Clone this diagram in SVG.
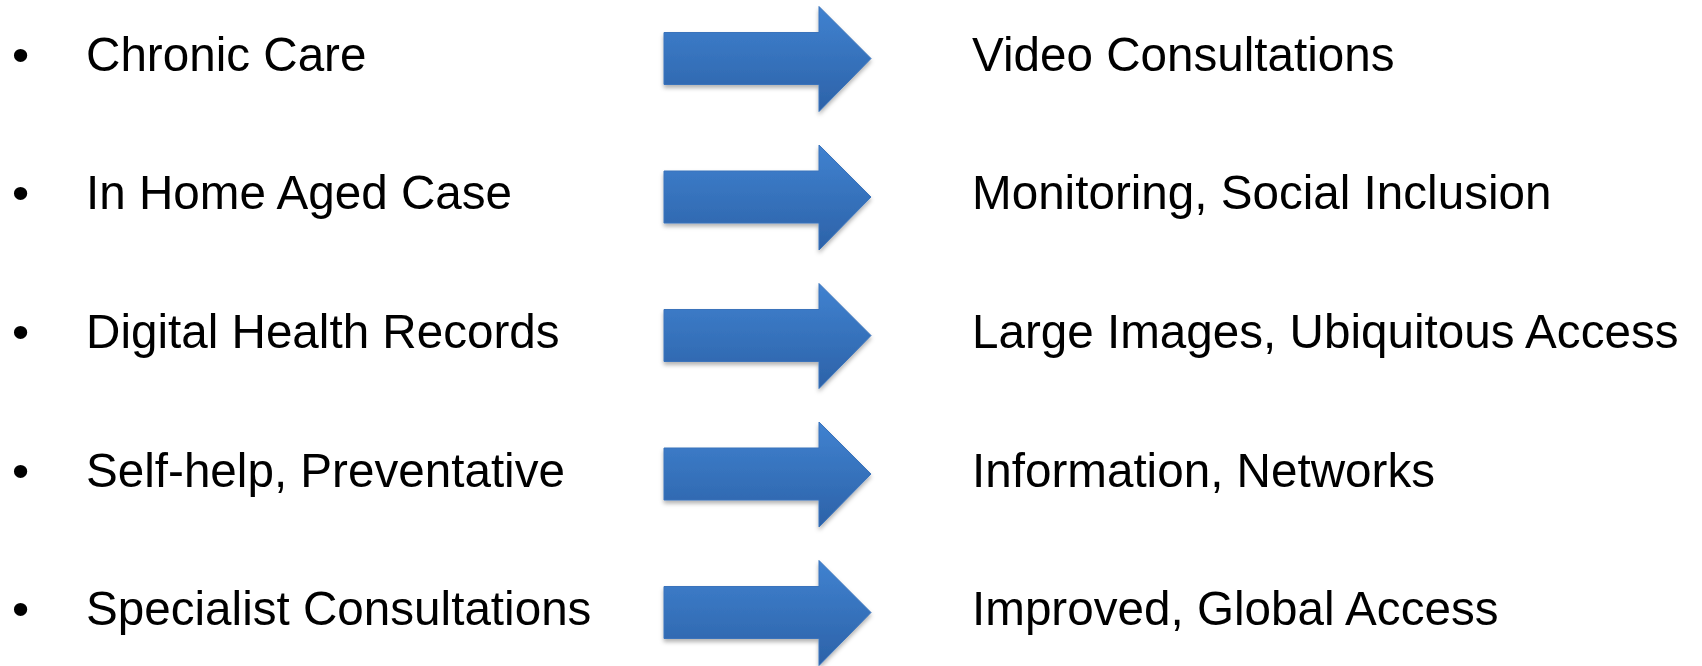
<svg xmlns="http://www.w3.org/2000/svg" width="1702" height="666" viewBox="0 0 1702 666">
  <defs>
    <linearGradient id="arrowGrad" x1="0" y1="0" x2="0" y2="1">
      <stop offset="0" stop-color="#4082d0"/>
      <stop offset="1" stop-color="#2c62a8"/>
    </linearGradient>
    <filter id="shadow" x="-10%" y="-10%" width="125%" height="130%">
      <feDropShadow dx="0" dy="3" stdDeviation="2" flood-color="#000" flood-opacity="0.3"/>
    </filter>
    <path id="arrowShape" d="M664,-26 L819,-26 L819,-52 L871,0 L819,53 L819,26 L664,26 Z"/>
  </defs>
  <style>
    .t { font-family: "Liberation Sans", Arial, sans-serif; font-size: 49px; fill: #000; }
    .arrow { fill: url(#arrowGrad); stroke: #3a73bb; stroke-width: 1; filter: url(#shadow); }
  </style>
  <rect width="1702" height="666" fill="#ffffff"/>

  <g id="row1">
    <text class="t" x="12" y="70.5">•</text>
    <text class="t" transform="translate(86,70.5) scale(0.972,1)">Chronic Care</text>
    <text class="t" transform="translate(972,70.5) scale(0.972,1)">Video Consultations</text>
  </g>
  <g id="row2">
    <text class="t" x="12" y="209">•</text>
    <text class="t" transform="translate(86,209) scale(0.972,1)">In Home Aged Case</text>
    <text class="t" transform="translate(972,209) scale(0.972,1)">Monitoring, Social Inclusion</text>
  </g>
  <g id="row3">
    <text class="t" x="12" y="348">•</text>
    <text class="t" transform="translate(86,348) scale(0.972,1)">Digital Health Records</text>
    <text class="t" transform="translate(972,348) scale(0.972,1)">Large Images, Ubiquitous Access</text>
  </g>
  <g id="row4">
    <text class="t" x="12" y="486.5">•</text>
    <text class="t" transform="translate(86,486.5) scale(0.972,1)">Self-help, Preventative</text>
    <text class="t" transform="translate(972,486.5) scale(0.972,1)">Information, Networks</text>
  </g>
  <g id="row5">
    <text class="t" x="12" y="625">•</text>
    <text class="t" transform="translate(86,625) scale(0.972,1)">Specialist Consultations</text>
    <text class="t" transform="translate(972,625) scale(0.972,1)">Improved, Global Access</text>
  </g>

  <g id="connectors">
    <use href="#arrowShape" class="arrow" transform="translate(0,58.5)"/>
    <use href="#arrowShape" class="arrow" transform="translate(0,197)"/>
    <use href="#arrowShape" class="arrow" transform="translate(0,335.5)"/>
    <use href="#arrowShape" class="arrow" transform="translate(0,474)"/>
    <use href="#arrowShape" class="arrow" transform="translate(0,612.5)"/>
  </g>
</svg>
